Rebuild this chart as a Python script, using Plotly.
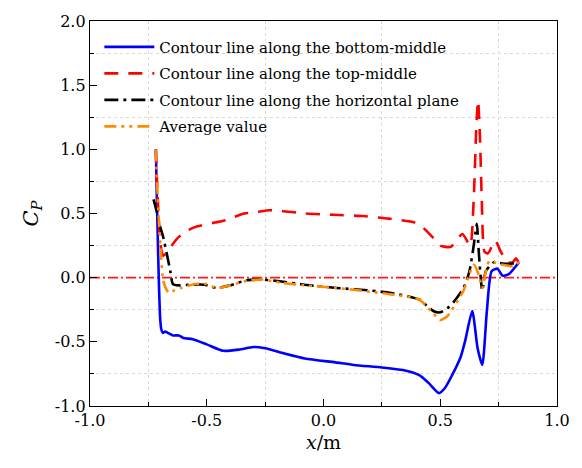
import plotly.graph_objects as go

# Pressure coefficient C_P along three contour lines of the body, plus their average
x_bottom = [-0.718, -0.714, -0.709, -0.704, -0.699, -0.695, -0.688, -0.678, -0.667, -0.645,
            -0.620, -0.600, -0.560, -0.500, -0.430, -0.360, -0.300, -0.250, -0.170, -0.080,
            0.050, 0.130, 0.250, 0.340, 0.410, 0.450, 0.495, 0.520, 0.545, 0.587, 0.607,
            0.637, 0.660, 0.680, 0.700, 0.720, 0.745, 0.767, 0.795, 0.837]
cp_bottom = [1.00, 0.65, 0.25, -0.10, -0.33, -0.40, -0.43, -0.42, -0.43, -0.45,
             -0.45, -0.47, -0.48, -0.52, -0.57, -0.56, -0.54, -0.55, -0.59, -0.63,
             -0.66, -0.68, -0.70, -0.72, -0.76, -0.82, -0.90, -0.86, -0.78, -0.62, -0.49,
             -0.26, -0.55, -0.68, -0.25, 0.05, 0.07, 0.015, 0.03, 0.12]

x_top = [-0.718, -0.713, -0.707, -0.700, -0.693, -0.687, -0.670, -0.650, -0.624, -0.580,
         -0.540, -0.465, -0.415, -0.340, -0.290, -0.230, -0.180, -0.080, 0.044, 0.170,
         0.280, 0.390, 0.420, 0.470, 0.500, 0.545, 0.595, 0.628, 0.643, 0.655, 0.662,
         0.670, 0.678, 0.690, 0.705, 0.735, 0.760, 0.790, 0.810, 0.825, 0.837]
cp_top = [1.00, 0.75, 0.50, 0.30, 0.20, 0.17, 0.20, 0.25, 0.31, 0.37,
          0.40, 0.43, 0.45, 0.50, 0.51, 0.525, 0.52, 0.50, 0.49, 0.48,
          0.46, 0.43, 0.40, 0.31, 0.25, 0.24, 0.34, 0.25, 0.60, 1.20, 1.38,
          1.10, 0.60, 0.20, 0.19, 0.29, 0.20, 0.12, 0.12, 0.15, 0.11]

x_horiz = [-0.728, -0.715, -0.700, -0.687, -0.667, -0.655, -0.645, -0.620, -0.570, -0.510,
           -0.457, -0.400, -0.330, -0.260, -0.180, -0.080, 0.056, 0.200, 0.290, 0.410,
           0.470, 0.500, 0.530, 0.557, 0.600, 0.625, 0.640, 0.650, 0.657, 0.665, 0.680,
           0.695, 0.730, 0.767, 0.810, 0.837]
cp_horiz = [0.61, 0.52, 0.40, 0.32, 0.15, 0.04, -0.05, -0.06, -0.055, -0.055,
            -0.08, -0.06, -0.02, -0.015, -0.03, -0.055, -0.08, -0.10, -0.12, -0.17,
            -0.26, -0.27, -0.24, -0.19, -0.08, 0.05, 0.21, 0.34, 0.42, 0.20, -0.10,
            0.05, 0.12, 0.11, 0.11, 0.12]

x_avg = [-0.718, -0.713, -0.705, -0.695, -0.687, -0.670, -0.658, -0.640, -0.610, -0.550,
         -0.500, -0.457, -0.400, -0.330, -0.260, -0.180, -0.080, 0.056, 0.200, 0.290,
         0.410, 0.460, 0.500, 0.530, 0.557, 0.600, 0.625, 0.645, 0.665, 0.680, 0.695,
         0.710, 0.730, 0.767, 0.810, 0.837]
cp_avg = [1.00, 0.75, 0.45, 0.15, -0.02, -0.10, -0.12, -0.10, -0.08, -0.05,
          -0.05, -0.08, -0.06, -0.025, -0.015, -0.04, -0.06, -0.08, -0.11, -0.13,
          -0.17, -0.26, -0.33, -0.30, -0.23, -0.10, 0.03, 0.10, 0.02, -0.08, 0.05,
          0.13, 0.12, 0.10, 0.09, 0.12]

series_names = ["Contour line along the bottom-middle",
                "Contour line along the top-middle",
                "Contour line along the horizontal plane",
                "Average value"]

x_ticks = [-1.0, -0.5, 0.0, 0.5, 1.0]
y_ticks = [-1.0, -0.5, 0.0, 0.5, 1.0, 1.5, 2.0]
# dotted grid sits between the labelled ticks
x_grid = [-0.75, -0.25, 0.25, 0.75]
y_grid = [-0.75, -0.25, 0.25, 0.75, 1.25, 1.75]

FONT = "DejaVu Serif"

fig = go.Figure()

# zero reference line
fig.add_trace(go.Scatter(x=[-1.0, 1.0], y=[0, 0], mode="lines", showlegend=False,
                         hoverinfo="skip",
                         line=dict(color="#ff1a1a", width=1.7, dash="10px,3px,2px,3px")))

styles = [
    dict(color="#0000ff", width=2.6, dash="solid"),
    dict(color="#ff0000", width=2.6, dash="14px,10px"),
    dict(color="#000000", width=2.6, dash="14px,5px,3px,5px"),
    dict(color="#ff8c00", width=2.6, dash="12px,5px,3px,5px,3px,5px"),
]
data = [(x_bottom, cp_bottom), (x_top, cp_top), (x_horiz, cp_horiz), (x_avg, cp_avg)]
for i, ((xs, ys), name, st) in enumerate(zip(data, series_names, styles)):
    fig.add_trace(go.Scatter(x=xs, y=ys, mode="lines", name=name, legendgroup=f"g{i}",
                             line=dict(shape="spline", smoothing=0.6, **st)))


def axis_style(grid_vals):
    return dict(
        showline=True, linecolor="black", linewidth=1.3, mirror=True,
        ticks="inside", ticklen=7, tickwidth=1.2, tickcolor="black",
        showgrid=False, zeroline=False,
        tickfont=dict(family=FONT, size=16, color="black"),
        ticklabeloverflow="allow",
        minor=dict(tickmode="array", tickvals=grid_vals,
                   ticks="inside", ticklen=4, tickwidth=1.2, tickcolor="black",
                   showgrid=True, gridcolor="#d9d9d9", griddash="dot", gridwidth=1),
    )


fig.update_xaxes(range=[-1.0, 1.0], tickmode="array", tickvals=x_ticks,
                 ticktext=[f"{v:.1f}" for v in x_ticks],
                 title=dict(text="<i>x</i>/m", font=dict(family=FONT, size=19, color="black"),
                            standoff=6),
                 **axis_style(x_grid))
fig.update_yaxes(range=[-1.0, 2.0], tickmode="array", tickvals=y_ticks,
                 ticktext=[f"{v:.1f}" for v in y_ticks],
                 title=dict(text="<i>C</i><sub><i>P</i></sub>",
                            font=dict(family=FONT, size=21, color="black"), standoff=10),
                 **axis_style(y_grid))

fig.update_layout(
    width=582, height=468,
    margin=dict(l=90, r=13, t=19, b=62),
    plot_bgcolor="white", paper_bgcolor="white",
    font=dict(family=FONT, color="black"),
    legend=dict(x=0.02, y=0.975, xanchor="left", yanchor="top",
                bgcolor="rgba(0,0,0,0)", font=dict(family=FONT, size=15, color="black"),
                itemwidth=50, tracegroupgap=4),
)

fig.write_html("out.html")
